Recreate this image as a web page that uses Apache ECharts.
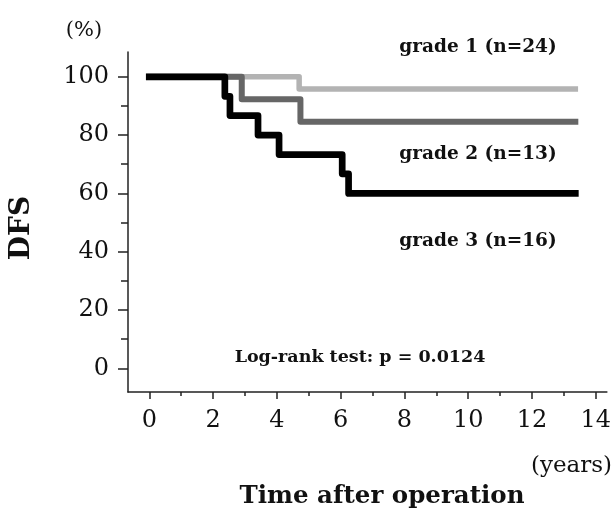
<!DOCTYPE html>
<html>
<head>
<meta charset="utf-8">
<script src="https://cdn.jsdelivr.net/npm/echarts@6/dist/echarts.min.js"></script>
<style>html,body{margin:0;padding:0;background:#fff}#c{width:614px;height:512px}</style>
</head>
<body>
<div id="c"></div>
<script>
// Data (Kaplan-Meier step curves)
const grade1Times = [0, 4.7, 13.36];
const grade1Surv  = [100, 95.8, 95.8];
const grade2Times = [0, 2.9, 4.74, 13.36];
const grade2Surv  = [100, 92.3, 84.6, 84.6];
const grade3Times = [0, 2.37, 2.53, 3.41, 4.07, 6.05, 6.25, 13.36];
const grade3Surv  = [100, 93.3, 86.7, 80, 73.3, 66.7, 60, 60];
const xMajorTicks = [0, 2, 4, 6, 8, 10, 12, 14];
const xMinorTicks = [1, 3, 5, 7, 9, 11, 13];
const yMajorTicks = [0, 20, 40, 60, 80, 100];
const yMinorTicks = [10, 30, 50, 70, 90];
const seriesNames = ['grade 1 (n=24)', 'grade 2 (n=13)', 'grade 3 (n=16)'];
const pValueText = 'Log-rank test: p = 0.0124';

const zip = (t, s) => t.map((v, i) => [v, s[i]]);
const FONT = 'DejaVu Serif';
const chart = echarts.init(document.getElementById('c'), null, {renderer: 'canvas'});
const X_MIN = -0.667, X_MAX = 14.35, Y_MIN = -8.13, Y_MAX = 108.5;
const axisColor = '#222';

function xAx(ticks, len, labels, line) {
  return {
    type: 'value', min: X_MIN, max: X_MAX, position: 'bottom',
    axisLine: {show: line, onZero: false, lineStyle: {color: axisColor, width: 1.5}},
    axisTick: {show: true, customValues: ticks, length: len, lineStyle: {color: axisColor, width: 1.5}},
    axisLabel: {show: labels, customValues: ticks, margin: 17, color: '#111', fontFamily: FONT, fontSize: 24},
    splitLine: {show: false}
  };
}
function yAx(ticks, len, labels, line) {
  return {
    type: 'value', min: Y_MIN, max: Y_MAX, position: 'left',
    axisLine: {show: line, onZero: false, lineStyle: {color: axisColor, width: 1.5}},
    axisTick: {show: true, customValues: ticks, length: len, lineStyle: {color: axisColor, width: 1.5}},
    axisLabel: {show: labels, customValues: ticks, margin: 19, color: '#111', fontFamily: FONT, fontSize: 24},
    splitLine: {show: false}
  };
}
function stepSeries(name, t, s, color, width, z) {
  return {
    name: name, type: 'line', step: 'end', data: zip(t, s), symbol: 'none',
    xAxisIndex: 0, yAxisIndex: 0, z: z, animation: false,
    lineStyle: {color: color, width: width, cap: 'square', join: 'round'}
  };
}
const txt = (x, y, text, size, weight, align) => ({
  type: 'text', x: x, y: y,
  style: {text: text, fill: '#111', font: weight + ' ' + size + 'px "' + FONT + '"', textAlign: align || 'center', textVerticalAlign: 'middle'}
});

chart.setOption({
  animation: false,
  grid: {left: 128, right: 6.3, top: 52, bottom: 120, containLabel: false},
  xAxis: [xAx(xMajorTicks, 7, true, true), xAx(xMinorTicks, 4, false, false)],
  yAxis: [yAx(yMajorTicks, 10, true, true), yAx(yMinorTicks, 7, false, false)],
  series: [
    stepSeries(seriesNames[0], grade1Times, grade1Surv, '#b3b3b3', 5.5, 2),
    stepSeries(seriesNames[1], grade2Times, grade2Surv, '#666666', 6, 3),
    stepSeries(seriesNames[2], grade3Times, grade3Surv, '#000000', 6.7, 4)
  ],
  graphic: [
    txt(478, 47, seriesNames[0], 18.5, 'bold'),
    txt(478, 154, seriesNames[1], 18.5, 'bold'),
    txt(478, 241, seriesNames[2], 18.5, 'bold'),
    txt(360, 357, pValueText, 17.5, 'bold'),
    txt(84, 31, '(%)', 21, 'normal'),
    txt(612, 466, '(years)', 23, 'normal', 'right'),
    txt(382, 497, 'Time after operation', 24.5, 'bold'),
    {type: 'text', x: 22, y: 228, rotation: Math.PI / 2,
     style: {text: 'DFS', fill: '#111', font: 'bold 28px "' + FONT + '"', textAlign: 'center', textVerticalAlign: 'middle'}}
  ]
});
</script>
</body>
</html>
